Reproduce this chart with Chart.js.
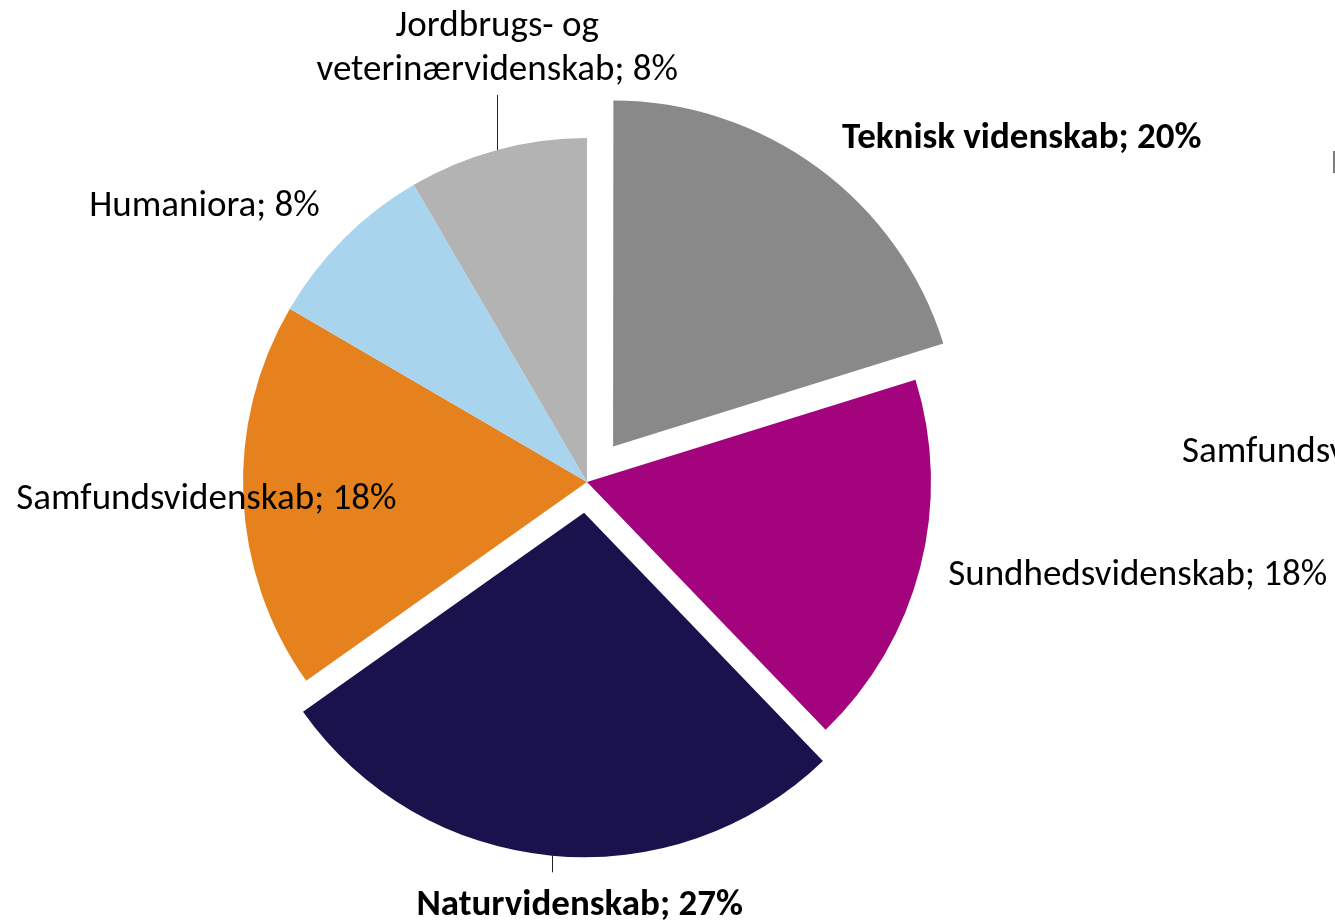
<!DOCTYPE html>
<html>
<head>
<meta charset="utf-8">
<script src="https://cdn.jsdelivr.net/npm/chart.js@4.4.1/dist/chart.umd.min.js"></script>
<style>
    html, body { margin: 0; padding: 0; background: #fff; }
    #wrap { width: 1335px; height: 922px; position: relative; }
</style>
</head>
<body>
<div id="wrap"><canvas id="chartFields"></canvas></div>
<script>
(function () {
    'use strict';

    // slice order, clockwise from 12 o'clock
    var fields = [
        'Teknisk videnskab',
        'Sundhedsvidenskab',
        'Naturvidenskab',
        'Samfundsvidenskab',
        'Humaniora',
        'Jordbrugs- og veterinærvidenskab'
    ];
    var shares = [20.2, 17.6, 27.4, 18.2, 8.2, 8.4];
    var shareLabels = ['20%', '18%', '27%', '18%', '8%', '8%'];

    var colors = ['#898989', '#a3037c', '#19124d', '#e6821e', '#a8d4ee', '#b3b3b3'];
    // pulled-out distance in px (chart.js moves an arc by offset / 4)
    var explode = [44, 0, 31, 0, 0, 0];

    var fontFamily = 'Carlito, Lato, "Open Sans", sans-serif';
    var fontSize = 37;

    // where each label sits, relative to the outer middle point of its slice
    var labelLayout = [
        { dx: 25, dy: -22, align: 'left', bold: true },
        { dx: 28, dy: 17, align: 'left' },
        { dx: 28, dy: 60, align: 'center', bold: true, leader: 17 },
        { dx: -37, dy: 12, align: 'center' },
        { dx: -24, dy: -23, align: 'right' },
        { dx: 0, dy: -114, align: 'center', leader: -55, lines: ['Jordbrugs- og', 'veterinærvidenskab; 8%'] }
    ];

    var sliceLabels = {
        id: 'sliceLabels',
        afterDatasetsDraw: function (chart) {
            var ctx = chart.ctx;
            var arcs = chart.getDatasetMeta(0).data;
            ctx.save();
            ctx.fillStyle = '#000';
            ctx.strokeStyle = '#222';
            ctx.lineWidth = 1;
            arcs.forEach(function (arc, i) {
                var lay = labelLayout[i];
                var mid = (arc.startAngle + arc.endAngle) / 2;
                var r = arc.outerRadius + (arc.options.offset || 0) / 4;
                var ax = arc.x + Math.cos(mid) * r;
                var ay = arc.y + Math.sin(mid) * r;
                if (lay.leader) {
                    ctx.beginPath();
                    ctx.moveTo(Math.round(ax) + 0.5, ay);
                    ctx.lineTo(Math.round(ax) + 0.5, ay + lay.leader);
                    ctx.stroke();
                }
                ctx.font = (lay.bold ? 'bold ' : '') + fontSize + 'px ' + fontFamily;
                ctx.textAlign = lay.align;
                ctx.textBaseline = 'alphabetic';
                var lines = lay.lines || [fields[i] + '; ' + shareLabels[i]];
                lines.forEach(function (t, k) {
                    ctx.fillText(t, ax + lay.dx, ay + lay.dy + k * 44);
                });
            });

            // fragments of the neighbouring chart, cut off at the right edge
            ctx.font = fontSize + 'px ' + fontFamily;
            ctx.textAlign = 'left';
            ctx.fillText('Samfundsvidenskab', 1182, 462);
            ctx.fillStyle = '#7f7f7f';
            ctx.fillRect(1333, 151, 2, 22);
            ctx.restore();
        }
    };

    new Chart(document.getElementById('chartFields'), {
        type: 'pie',
        data: {
            labels: fields,
            datasets: [{
                data: shares,
                backgroundColor: colors,
                borderWidth: 0,
                offset: explode.map(function (v) { return v * 4; })
            }]
        },
        options: {
            responsive: true,
            maintainAspectRatio: false,
            animation: false,
            radius: 344,
            layout: { padding: { left: 0, right: 161, top: 42, bottom: 0 } },
            plugins: {
                legend: { display: false },
                tooltip: { enabled: false }
            }
        },
        plugins: [sliceLabels]
    });
})();
</script>
</body>
</html>
